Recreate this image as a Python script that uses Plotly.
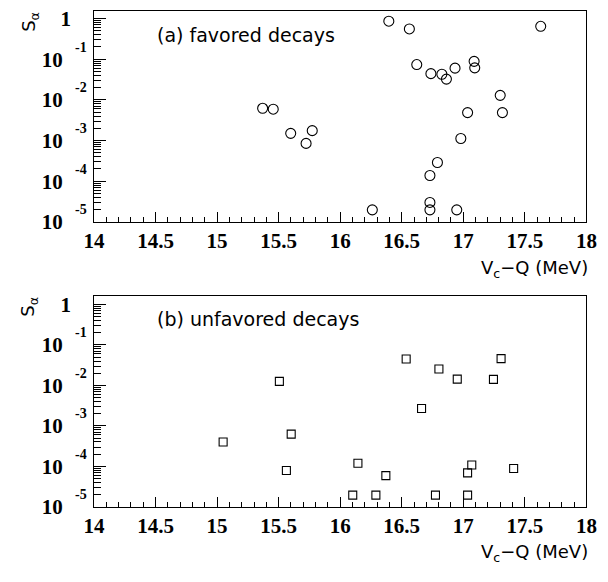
import plotly.graph_objects as go

# ---------------- data ----------------
fav_x = [15.370, 15.456, 15.598, 15.723, 15.773, 16.395, 16.562, 17.629, 16.622, 16.737,
         16.826, 16.863, 16.933, 17.088, 17.093, 17.300, 17.035, 17.318, 16.980, 16.790,
         16.729, 16.729, 16.729, 16.261, 16.947]
fav_s = [6.2e-3, 5.9e-3, 1.5e-3, 8.5e-4, 1.75e-3, 0.861, 0.555, 0.644, 0.0738, 0.0441,
         0.0426, 0.0324, 0.0603, 0.0885, 0.0612, 0.0129, 4.86e-3, 4.86e-3, 1.12e-3, 2.88e-4,
         1.38e-4, 3.0e-5, 1.97e-5, 1.97e-5, 1.97e-5]

unf_x = [15.049, 15.506, 15.602, 15.563, 16.102, 16.144, 16.290, 16.371, 16.536, 16.661,
         16.802, 16.774, 16.951, 17.035, 17.069, 17.035, 17.245, 17.307, 17.409]
unf_s = [4.0e-4, 0.0126, 6.25e-4, 7.9e-5, 1.94e-5, 1.19e-4, 1.94e-5, 5.9e-5, 0.0451, 2.68e-3,
         0.0255, 1.94e-5, 0.0143, 6.9e-5, 1.08e-4, 1.94e-5, 0.0141, 0.0458, 8.8e-5]

x_tick_vals = [14, 14.5, 15, 15.5, 16, 16.5, 17, 17.5, 18]
x_tick_text = ["14", "14.5", "15", "15.5", "16", "16.5", "17", "17.5", "18"]
y_tick_vals = [1e-5, 1e-4, 1e-3, 1e-2, 1e-1, 1]
y_exponents = ["-5", "-4", "-3", "-2", "-1"]
y_tick_text = ["10\u00a0<sup><sup><span style=\"font-size:14px\">\u00a0\u00a0" + e +
               "</span></sup></sup>" for e in y_exponents] + ["1\u00a0\u00a0\u00a0"]
panel_labels = ["(a) favored decays", "(b) unfavored decays"]
x_title = "V<sub>c</sub>\u2212Q (MeV)"
y_title = "S<sub>\u03b1</sub>"

# ---------------- layout helpers ----------------
W, H = 608, 582
def fx(p):
    return p / W
def fy(p):
    return 1 - p / H

y_minor_vals = [k * 10.0 ** e for e in range(-5, 1) for k in range(2, 10)]

tick_font = dict(family="Liberation Serif", size=21, color="black", weight="bold")
text_font = dict(family="DejaVu Sans", size=19, color="black")
title_font = dict(family="DejaVu Sans", size=18, color="black")
ytitle_font = dict(family="DejaVu Sans", size=18, color="black")

def xaxis_cfg(anchor):
    return dict(domain=[fx(87), fx(597)], anchor=anchor, range=[14, 18],
                showline=True, mirror=True, linecolor="black", linewidth=1,
                showgrid=False, zeroline=False,
                ticks="inside", ticklen=10, tickwidth=1, tickcolor="black",
                tickmode="array", tickvals=x_tick_vals, ticktext=x_tick_text,
                tickfont=tick_font,
                minor=dict(ticks="inside", ticklen=5, tickwidth=1, tickcolor="black",
                           tick0=14, dtick=0.1, showgrid=False))

def yaxis_cfg(anchor, top, bottom, rng):
    return dict(domain=[fy(bottom), fy(top)], anchor=anchor, type="log", range=rng,
                showline=True, mirror=True, linecolor="black", linewidth=1,
                showgrid=False, zeroline=False,
                ticks="inside", ticklen=12, tickwidth=1, tickcolor="black",
                tickmode="array", tickvals=y_tick_vals, ticktext=y_tick_text,
                tickfont=tick_font, ticklabelstandoff=2,
                minor=dict(ticks="inside", ticklen=7, tickwidth=1, tickcolor="black",
                           tickmode="array", tickvals=y_minor_vals, showgrid=False))

fig = go.Figure()
fig.add_trace(go.Scatter(x=fav_x, y=fav_s, mode="markers", xaxis="x", yaxis="y",
                         marker=dict(symbol="circle-open", size=10, color="black",
                                     line=dict(width=1.1, color="black")),
                         showlegend=False))
fig.add_trace(go.Scatter(x=unf_x, y=unf_s, mode="markers", xaxis="x2", yaxis="y2",
                         marker=dict(symbol="square-open", size=8, color="black",
                                     line=dict(width=1.1, color="black")),
                         showlegend=False))

annotations = [
    dict(text=panel_labels[0], x=fx(150), y=fy(32), xref="paper", yref="paper",
         xanchor="left", yanchor="middle", showarrow=False, font=text_font),
    dict(text=panel_labels[1], x=fx(150), y=fy(324), xref="paper", yref="paper",
         xanchor="left", yanchor="middle", showarrow=False, font=text_font),
    dict(text=x_title, x=fx(601), y=fy(273), xref="paper", yref="paper",
         xanchor="right", yanchor="middle", showarrow=False, font=title_font),
    dict(text=x_title, x=fx(601), y=fy(565), xref="paper", yref="paper",
         xanchor="right", yanchor="middle", showarrow=False, font=title_font),
    dict(text=y_title, x=fx(20), y=fy(18), xref="paper", yref="paper", textangle=-90,
         xanchor="center", yanchor="middle", showarrow=False, font=ytitle_font),
    dict(text=y_title, x=fx(20), y=fy(311), xref="paper", yref="paper", textangle=-90,
         xanchor="center", yanchor="middle", showarrow=False, font=ytitle_font),
]

fig.update_layout(
    width=W, height=H,
    margin=dict(l=0, r=0, t=0, b=0),
    paper_bgcolor="white", plot_bgcolor="white",
    xaxis=xaxis_cfg("y"),
    yaxis=yaxis_cfg("x", 7, 224, [-5, 0.19]),
    xaxis2=xaxis_cfg("y2"),
    yaxis2=yaxis_cfg("x2", 300, 517, [-5, 0.216]),
    annotations=annotations,
    showlegend=False,
)

fig.write_html("out.html", config={"displayModeBar": False},
               post_script="document.body.style.margin='0px';")
